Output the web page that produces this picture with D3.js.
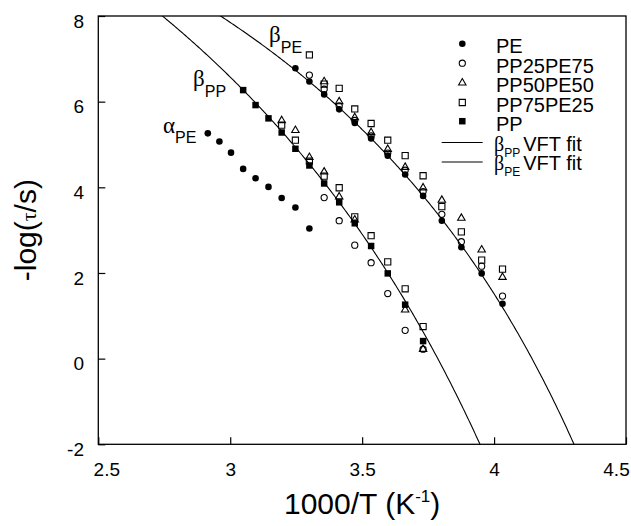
<!DOCTYPE html>
<html>
<head>
<meta charset="utf-8">
<script src="https://cdn.jsdelivr.net/npm/d3@7"></script>
<style>
  html, body { margin: 0; padding: 0; background: #fff; }
  svg { display: block; font-family: "Liberation Sans", Arial, sans-serif; }
</style>
</head>
<body>
<svg id="chart" width="631" height="526"></svg>
<script>
// ---- axis ticks ----
const xTicks = [2.5, 3, 3.5, 4, 4.5];
const yTicks = [-2, 0, 2, 4, 6, 8];

// ---- measured relaxation times: x = 1000/T (K^-1), y = -log(tau/s) ----
// PE: alpha process and beta_PE process
const peAlphaX = [2.915, 2.959, 3.003, 3.049, 3.096, 3.145, 3.195, 3.247, 3.300];
const peAlphaY = [5.26, 5.07, 4.81, 4.43, 4.21, 4.01, 3.75, 3.53, 3.04];
const peBetaX  = [3.247, 3.300, 3.356, 3.413, 3.472, 3.534, 3.597, 3.663, 3.731, 3.802, 3.876, 3.953, 4.032];
const peBetaY  = [6.78, 6.47, 6.17, 5.82, 5.50, 5.14, 4.74, 4.30, 3.80, 3.22, 2.60, 1.99, 1.28];

// PP25PE75
const pp25BetaPEX = [3.300, 3.356, 3.413, 3.472, 3.534, 3.597, 3.663, 3.731, 3.802, 3.876, 3.953, 4.032];
const pp25BetaPEY = [6.62, 6.29, 5.90, 5.56, 5.20, 4.80, 4.40, 3.90, 3.37, 2.73, 2.16, 1.46];
const pp25BetaPPX = [3.356, 3.413, 3.472, 3.534, 3.597, 3.663, 3.731];
const pp25BetaPPY = [3.76, 3.22, 2.65, 2.24, 1.52, 0.66, 0.22];

// PP50PE50
const pp50BetaPEX = [3.356, 3.413, 3.472, 3.534, 3.597, 3.663, 3.731, 3.802, 3.876, 3.953, 4.032];
const pp50BetaPEY = [6.47, 6.00, 5.63, 5.28, 4.89, 4.47, 3.99, 3.70, 3.28, 2.54, 1.90];
const pp50BetaPPX = [3.195, 3.247, 3.300, 3.356, 3.413, 3.472, 3.663, 3.731];
const pp50BetaPPY = [5.56, 5.33, 4.70, 4.36, 3.78, 3.24, 1.14, 0.22];

// PP75PE25
const pp75BetaPEX = [3.300, 3.356, 3.413, 3.472, 3.534, 3.597, 3.663, 3.731, 3.802, 3.876, 3.953, 4.032];
const pp75BetaPEY = [7.09, 6.41, 6.31, 5.83, 5.49, 5.10, 4.74, 4.27, 3.55, 2.96, 2.30, 2.09];
const pp75BetaPPX = [3.195, 3.247, 3.300, 3.356, 3.413, 3.472, 3.534, 3.597, 3.663, 3.731];
const pp75BetaPPY = [5.45, 5.10, 4.61, 4.26, 3.99, 3.31, 2.87, 2.26, 1.63, 0.75];

// PP: beta_PP process
const ppBetaX = [3.049, 3.096, 3.145, 3.195, 3.247, 3.300, 3.356, 3.413, 3.472, 3.534, 3.597, 3.663, 3.731];
const ppBetaY = [6.27, 5.92, 5.61, 5.28, 4.90, 4.51, 4.09, 3.65, 3.16, 2.63, 1.99, 1.26, 0.41];

// VFT fit parameters: -log(tau) = A - B / (T - T0)
const vftPP = { A: 15.42, B: 1436.9, T0: 170.9 };
const vftPE = { A: 13.91, B: 988.0, T0: 170.3 };

// legend entries
const legendNames = ["PE", "PP25PE75", "PP50PE50", "PP75PE25", "PP"];

// ---- layout ----
const svg = d3.select("#chart");
const plotL = 98.3, plotR = 626, plotT = 16, plotB = 444.3;
const x = d3.scaleLinear().domain([2.5, 4.5]).range([plotL, plotR]);
const y = d3.scaleLinear().domain([-2, 8]).range([plotB, plotT]);

const zip = (xs, ys) => xs.map((v, i) => [v, ys[i]]);

// marker styles per sample
const markers = {
  "PE":       { type: d3.symbolCircle,   size: 34, fill: "#000", stroke: "none" },
  "PP25PE75": { type: d3.symbolCircle,   size: 30, fill: "none", stroke: "#000" },
  "PP50PE50": { type: d3.symbolTriangle, size: 24, fill: "none", stroke: "#000" },
  "PP75PE25": { type: d3.symbolSquare,   size: 38, fill: "none", stroke: "#000" },
  "PP":       { type: d3.symbolSquare,   size: 42, fill: "#000", stroke: "none" }
};

const series = [
  { name: "PE",       pts: zip(peAlphaX, peAlphaY).concat(zip(peBetaX, peBetaY)) },
  { name: "PP25PE75", pts: zip(pp25BetaPEX, pp25BetaPEY).concat(zip(pp25BetaPPX, pp25BetaPPY)) },
  { name: "PP50PE50", pts: zip(pp50BetaPEX, pp50BetaPEY).concat(zip(pp50BetaPPX, pp50BetaPPY)) },
  { name: "PP75PE25", pts: zip(pp75BetaPEX, pp75BetaPEY).concat(zip(pp75BetaPPX, pp75BetaPPY)) },
  { name: "PP",       pts: zip(ppBetaX, ppBetaY) }
];

// ---- clip ----
svg.append("defs").append("clipPath").attr("id", "plotClip")
  .append("rect").attr("x", plotL).attr("y", plotT)
  .attr("width", plotR - plotL).attr("height", plotB - plotT);

// ---- axes ----
const xAxis = d3.axisBottom(x).tickValues(xTicks).tickSize(-7).tickPadding(18)
  .tickFormat(d => String(d));
const gx = svg.append("g").attr("transform", `translate(0,${plotB})`).call(xAxis);
gx.select(".domain").remove();
gx.selectAll(".tick line").attr("stroke", "#000").attr("stroke-width", 1.2);
gx.selectAll(".tick text").attr("fill", "#000").attr("font-size", 19)
  .attr("font-family", "Liberation Sans, Arial, sans-serif")
  .attr("dx", d => d === 2.5 ? 8 : (d === 4.5 ? -10 : 0));

const yAxis = d3.axisLeft(y).tickValues(yTicks).tickSize(-7).tickPadding(14.3)
  .tickFormat(d => String(d));
const gy = svg.append("g").attr("transform", `translate(${plotL},0)`).call(yAxis);
gy.select(".domain").remove();
gy.selectAll(".tick line").attr("stroke", "#000").attr("stroke-width", 1.2);
gy.selectAll(".tick text").attr("fill", "#000").attr("font-size", 19)
  .attr("font-family", "Liberation Sans, Arial, sans-serif")
  .attr("dy", "0.58em");

// frame
svg.append("rect").attr("x", plotL).attr("y", plotT)
  .attr("width", plotR - plotL).attr("height", plotB - plotT)
  .attr("fill", "none").attr("stroke", "#000").attr("stroke-width", 1.3);

// ---- VFT fit curves ----
const curveX = d3.range(2.5, 4.5001, 0.004);
const vft = p => xv => p.A - p.B / (1000 / xv - p.T0);
const line = d3.line().x(d => x(d[0])).y(d => y(d[1]));
const fits = svg.append("g").attr("clip-path", "url(#plotClip)");
[vftPP, vftPE].forEach(p => {
  const f = vft(p);
  const pts = curveX.map(xv => [xv, f(xv)]).filter(d => d[1] > -4 && d[1] < 12);
  fits.append("path").attr("d", line(pts))
    .attr("fill", "none").attr("stroke", "#000").attr("stroke-width", 1.1);
});

// ---- data markers ----
series.forEach(s => {
  const m = markers[s.name];
  svg.append("g").selectAll("path").data(s.pts).join("path")
    .attr("transform", d => `translate(${x(d[0])},${y(d[1])})`)
    .attr("d", d3.symbol().type(m.type).size(m.size))
    .attr("fill", m.fill).attr("stroke", m.stroke).attr("stroke-width", 1.1);
});

// ---- in-plot labels ----
function greekLabel(g, xPos, yBase, letter, sub, subDy) {
  const t = g.append("text").attr("x", xPos).attr("y", yBase).attr("fill", "#000");
  t.append("tspan").attr("font-family", "Liberation Serif, Times New Roman, serif")
    .attr("font-size", 23).text(letter);
  t.append("tspan").attr("font-size", 16).attr("dy", subDy).text(sub);
}
const ann = svg.append("g");
greekLabel(ann, 269, 42, "β", "PE", 11);
greekLabel(ann, 193, 86, "β", "PP", 11);
greekLabel(ann, 163, 133, "α", "PE", 10);

// ---- legend ----
const lg = svg.append("g");
const rowY = [53.3, 72.7, 92.3, 112, 130.7];
legendNames.forEach((name, i) => {
  const m = markers[name];
  lg.append("path").attr("transform", `translate(462.3,${rowY[i] - 9.5})`)
    .attr("d", d3.symbol().type(m.type).size(m.size))
    .attr("fill", m.fill).attr("stroke", m.stroke).attr("stroke-width", 1.1);
  lg.append("text").attr("x", 496).attr("y", rowY[i]).attr("font-size", 20)
    .attr("fill", "#000").text(name);
});
const fitRows = [{ sub: "PP", base: 150.5 }, { sub: "PE", base: 170 }];
fitRows.forEach(r => {
  lg.append("line").attr("x1", 441.7).attr("x2", 482.7)
    .attr("y1", r.base - 8).attr("y2", r.base - 8)
    .attr("stroke", "#000").attr("stroke-width", 1.1);
  const t = lg.append("text").attr("x", 494).attr("y", r.base).attr("fill", "#000");
  t.append("tspan").attr("font-family", "Liberation Serif, Times New Roman, serif")
    .attr("font-size", 20).text("β");
  t.append("tspan").attr("font-size", 12).attr("dy", 6).text(r.sub);
  t.append("tspan").attr("font-size", 20).attr("dy", -6).attr("dx", 3).text("VFT fit");
});

// ---- axis titles ----
const xt = svg.append("text").attr("x", (plotL + plotR) / 2).attr("y", 514)
  .attr("text-anchor", "middle").attr("font-size", 30).attr("fill", "#000");
xt.append("tspan").text("1000/T (K");
xt.append("tspan").attr("font-size", 17).attr("dy", -12).text("-1");
xt.append("tspan").attr("dy", 12).text(")");

const yt = svg.append("text")
  .attr("transform", `translate(36,${(plotT + plotB) / 2}) rotate(-90)`)
  .attr("text-anchor", "middle").attr("font-size", 30).attr("fill", "#000");
yt.append("tspan").text("-log(");
yt.append("tspan").attr("font-family", "Liberation Serif, Times New Roman, serif")
  .attr("font-size", 22).text("τ");
yt.append("tspan").text("/s)");
</script>
</body>
</html>
